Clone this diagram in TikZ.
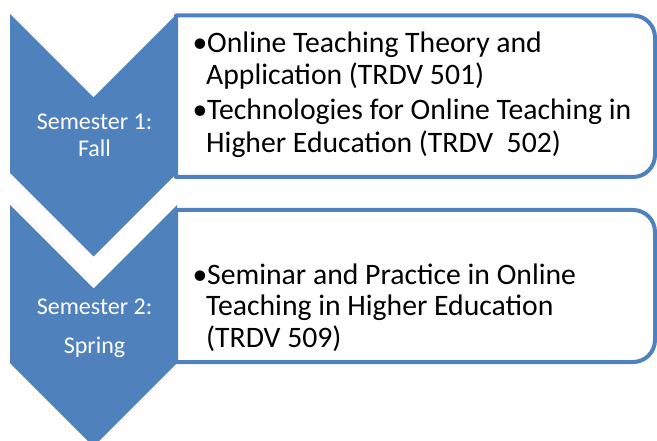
\documentclass[tikz,border=0pt]{standalone}
\usepackage{fontspec}
\setmainfont{Carlito}
\definecolor{chevblue}{HTML}{4F81BD}
\begin{document}
\begin{tikzpicture}[x=1pt,y=-1pt,
  chev/.style={fill=chevblue,draw=none},
  listbox/.style={draw=chevblue,line width=4pt,fill=white,line join=round},
  semtext/.style={text=white,font=\fontsize{24}{28}\selectfont,anchor=base,inner sep=0pt},
  itemtext/.style={text=black,font=\fontsize{29.7}{33}\selectfont,anchor=base west,inner sep=0pt},
  bullettext/.style={text=black,font=\fontsize{29.7}{33}\selectfont,anchor=base,inner sep=0pt}]
\useasboundingbox (0,0) rectangle (657,441);
\begin{scope}
\clip (0,0) rectangle (657,441);
% chevrons
\path[chev] (10,14) -- (93.5,97.5) -- (177,14) -- (177,173) -- (93.5,256.5) -- (10,173) -- cycle;
\path[chev] (10,205) -- (93.5,288.5) -- (177,205) -- (177,363) -- (93.5,446.5) -- (10,363) -- cycle;
% boxes
\draw[listbox] (176,15.5) -- (633,15.5) arc[start angle=270,end angle=360,radius=22] -- (655,155) arc[start angle=0,end angle=90,radius=22] -- (176,177) -- cycle;
\draw[listbox] (176,210) -- (633,210) arc[start angle=270,end angle=360,radius=22] -- (655,340) arc[start angle=0,end angle=90,radius=22] -- (176,362) -- cycle;
\end{scope}
% left labels
\node[semtext] (s1a) at (94.5,130) {Semester 1:};
\node[semtext] (s1b) at (94.5,157) {Fall};
\node[semtext] (s2a) at (94.5,315) {Semester 2:};
\node[semtext] (s2b) at (94.5,353) {Spring};
% box 1 items
\node[bullettext] (b1) at (200,53) {•};
\node[itemtext] (t1a) at (207,53) {Online Teaching Theory and};
\node[itemtext] (t1b) at (206,85) {Application (TRDV 501)};
\node[bullettext] (b2) at (200,120) {•};
\node[itemtext] (t2a) at (207,120) {Technologies for Online Teaching in};
\node[itemtext] (t2b) at (206,153) {Higher Education (TRDV\ \ 502)};
% box 2 items
\node[bullettext] (b3) at (200,284) {•};
\node[itemtext] (t3a) at (207,284) {Seminar and Practice in Online};
\node[itemtext] (t3b) at (206,316) {Teaching in Higher Education};
\node[itemtext] (t3c) at (206,348) {(TRDV 509)};
\end{tikzpicture}
\end{document}
